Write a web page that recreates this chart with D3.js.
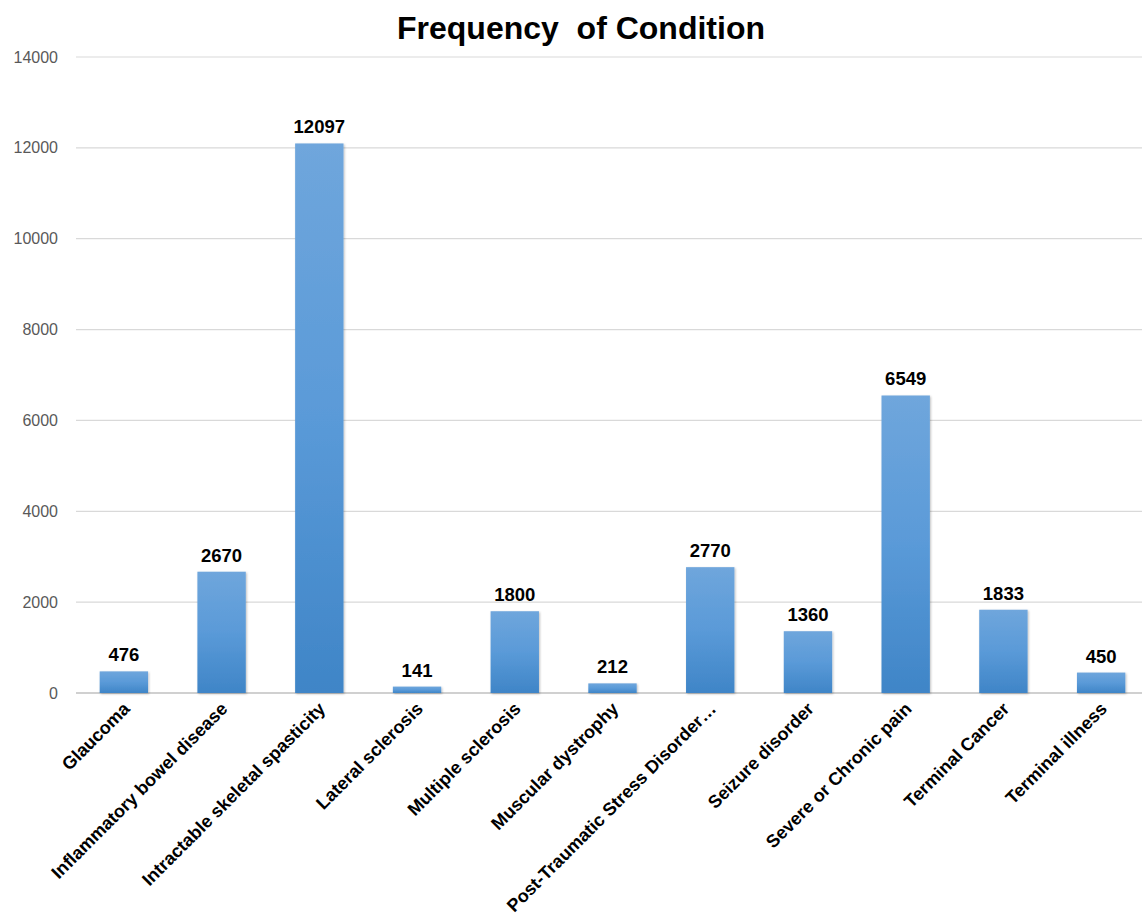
<!DOCTYPE html>
<html><head><meta charset="utf-8">
<script src="https://cdn.jsdelivr.net/npm/d3@7"></script>
<style>body{margin:0;background:#fff;} svg{display:block;font-family:"Liberation Sans",Arial,sans-serif;}</style>
</head><body>
<svg id="chart" width="1142" height="918"></svg>
<script>
const categories = ["Glaucoma","Inflammatory bowel disease","Intractable skeletal spasticity","Lateral sclerosis","Multiple sclerosis","Muscular dystrophy","Post-Traumatic Stress Disorder\u2026","Seizure disorder","Severe or Chronic pain","Terminal Cancer","Terminal illness"];
const values = [476,2670,12097,141,1800,212,2770,1360,6549,1833,450];
const yTicks = [0,2000,4000,6000,8000,10000,12000,14000];
const title = "Frequency  of Condition";

const svg = d3.select("#chart");
const x = d3.scaleBand().domain(categories).range([75, 1150]).paddingInner(0.505).paddingOuter(0.2525);
const y = d3.scaleLinear().domain([0,14000]).range([693, 57]);

const defs = svg.append("defs");
const g = defs.append("linearGradient").attr("id","barg").attr("x1",0).attr("y1",0).attr("x2",0).attr("y2",1);
g.append("stop").attr("offset","0%").attr("stop-color","#6fa6dc");
g.append("stop").attr("offset","50%").attr("stop-color","#5a9ad8");
g.append("stop").attr("offset","100%").attr("stop-color","#3f85c7");
const f = defs.append("filter").attr("id","sh").attr("x","-20%").attr("y","-20%").attr("width","140%").attr("height","140%");
f.append("feDropShadow").attr("dx",1).attr("dy",1).attr("stdDeviation",1.2).attr("flood-color","#000").attr("flood-opacity",0.25);

// gridlines
svg.append("g").selectAll("line").data(yTicks).join("line")
  .attr("x1",76).attr("x2",1142).attr("y1",d=>y(d)).attr("y2",d=>y(d))
  .attr("stroke",d=>d===0?"#d0d0d0":"#d9d9d9").attr("stroke-width",d=>d===0?2:1.2);

// y axis labels
const yAxis = d3.axisLeft(y).tickValues(yTicks).tickSize(0).tickPadding(0).tickFormat(d3.format("d"));
const ya = svg.append("g").attr("transform","translate(58,0)").call(yAxis);
ya.select(".domain").remove();
ya.selectAll("text").attr("fill","#595959").attr("font-size",16).attr("font-family","Liberation Sans, Arial, sans-serif");

// bars
svg.append("g").selectAll("rect").data(values).join("rect")
  .attr("x",(d,i)=>x(categories[i])).attr("width",x.bandwidth())
  .attr("y",d=>y(d)).attr("height",d=>y(0)-y(d))
  .attr("fill","url(#barg)").attr("filter","url(#sh)");

// value labels
svg.append("g").selectAll("text").data(values).join("text")
  .attr("x",(d,i)=>x(categories[i])+x.bandwidth()/2).attr("y",d=>y(d)-10)
  .attr("text-anchor","middle").attr("font-size",18.5).attr("font-weight","bold").attr("fill","#000")
  .text(d=>d);

// x labels
const xa = svg.append("g").attr("transform","translate(0,693)").call(d3.axisBottom(x).tickSize(0).tickPadding(0));
xa.select(".domain").remove();
xa.selectAll("text").attr("font-size",18).attr("font-weight","bold").attr("fill","#000")
  .attr("font-family","Liberation Sans, Arial, sans-serif")
  .attr("text-anchor","end").attr("dy",0)
  .attr("transform","translate(7,17) rotate(-45)");

// title
svg.append("text").attr("x",581).attr("y",39).attr("text-anchor","middle")
  .attr("font-size",32).attr("font-weight","bold").attr("fill","#000").style("white-space","pre").text(title);
</script>
</body></html>
